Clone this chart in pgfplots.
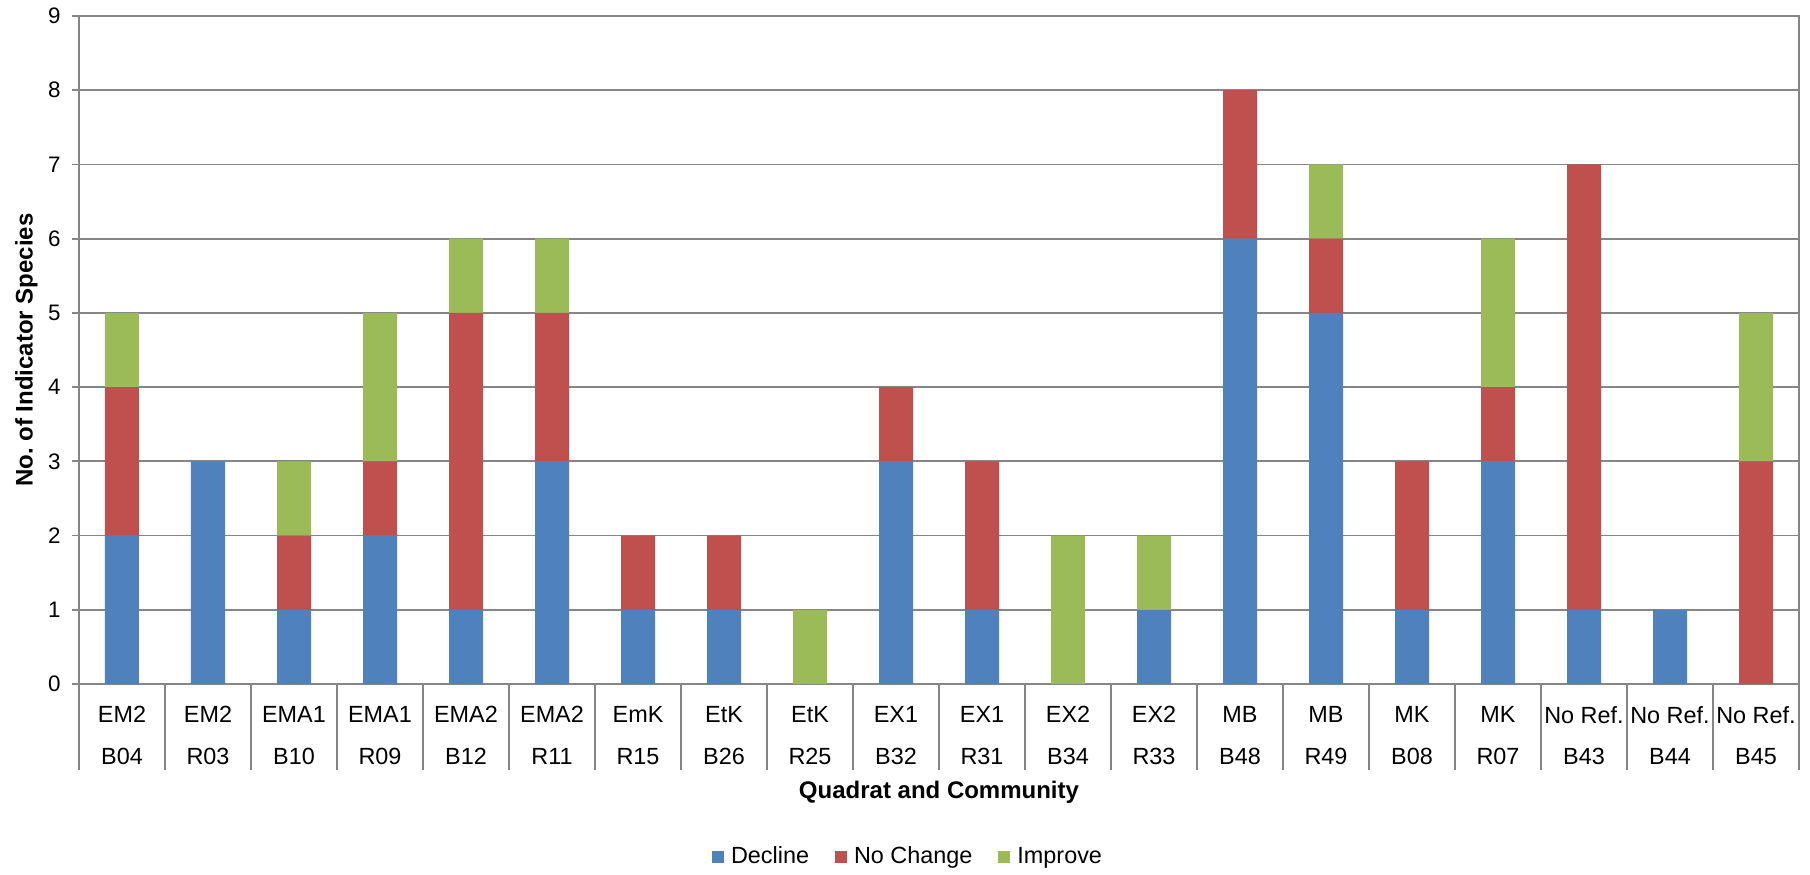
\documentclass[border=0pt]{standalone}
\usepackage{fontspec}
\setmainfont{Liberation Sans}
\usepackage{pgfplots}
\pgfplotsset{compat=1.18}
\usepackage{pgfplotstable}

\definecolor{decline}{HTML}{4F81BD}
\definecolor{nochange}{HTML}{C0504D}
\definecolor{improve}{HTML}{9BBB59}
\definecolor{axisgray}{HTML}{868686}

% Indicator species per quadrat: decline / no change / improve
\pgfplotstableread{
idx decline nochange improve
0  2 2 1
1  3 0 0
2  1 1 1
3  2 1 2
4  1 4 1
5  3 2 1
6  1 1 0
7  1 1 0
8  0 0 1
9  3 1 0
10 1 2 0
11 0 0 2
12 1 0 1
13 6 2 0
14 5 1 1
15 1 2 0
16 3 1 2
17 1 6 0
18 1 0 0
19 0 3 2
}\counts

\begin{document}
\begin{tikzpicture}
\path[use as bounding box] (0,0) rectangle (905pt,437pt);
\begin{axis}[
  at={(39.5pt,95pt)}, anchor=south west,
  width=860pt, height=334pt, scale only axis,
  ybar stacked, bar width=17pt,
  xmin=-0.5, xmax=19.5, ymin=0, ymax=9,
  ytick={0,1,...,9},
  xtick={0,1,...,19},
  xticklabels={{EM2\\B04},{EM2\\R03},{EMA1\\B10},{EMA1\\R09},{EMA2\\B12},{EMA2\\R11},
    {EmK\\R15},{EtK\\B26},{EtK\\R25},{EX1\\B32},{EX1\\R31},{EX2\\B34},{EX2\\R33},
    {MB\\B48},{MB\\R49},{MK\\B08},{MK\\R07},{No Ref.\\B43},{No Ref.\\B44},{No Ref.\\B45}},
  minor xtick={-0.5,0.5,...,19.5},
  xtick pos=bottom, ytick pos=left,
  tick align=outside,
  major tick length=3.5pt,
  minor tick length=43pt,
  tick style={axisgray, line width=0.9pt},
  major x tick style={draw=none},
  minor x tick style={draw=axisgray, line width=0.9pt},
  axis line style={axisgray, line width=0.9pt},
  ymajorgrids,
  grid style={axisgray, line width=0.9pt},
  /pgf/number format/assume math mode=true,
  yticklabel style={font=\fontsize{11.2pt}{13pt}\selectfont, inner sep=0pt, anchor=east, xshift=-5.5pt},
  xticklabel style={font=\fontsize{11.7pt}{20.8pt}\selectfont, align=center, inner sep=0pt, anchor=north, yshift=-7.5pt},
  ylabel={No.\ of Indicator Species},
  ylabel style={at={(axis description cs:-0.0305,0.5)}, anchor=center,
    font=\fontsize{12pt}{14pt}\selectfont\bfseries},
  xlabel={Quadrat and Community},
  xlabel style={at={(axis description cs:0.5,-0.1716)}, anchor=base,
    font=\fontsize{12pt}{14pt}\selectfont\bfseries},
  legend style={at={(axis description cs:0.4814,-0.259)}, anchor=center,
    legend columns=3, draw=none, fill=none, inner sep=0pt,
    nodes={inner sep=0pt},
    font=\fontsize{11.7pt}{14pt}\selectfont,
    /tikz/every even column/.append style={column sep=13pt}},
  legend cell align=left,
  legend image code/.code={\fill[#1] (0pt,-3pt) rectangle (6pt,3pt);
    \path (9.5pt,0pt);},
]
\addplot[fill=decline, draw=none] table[x=idx, y=decline]{\counts};
\addlegendentry{Decline}
\addplot[fill=nochange, draw=none] table[x=idx, y=nochange]{\counts};
\addlegendentry{No Change}
\addplot[fill=improve, draw=none] table[x=idx, y=improve]{\counts};
\addlegendentry{Improve}
\end{axis}
\end{tikzpicture}
\end{document}
